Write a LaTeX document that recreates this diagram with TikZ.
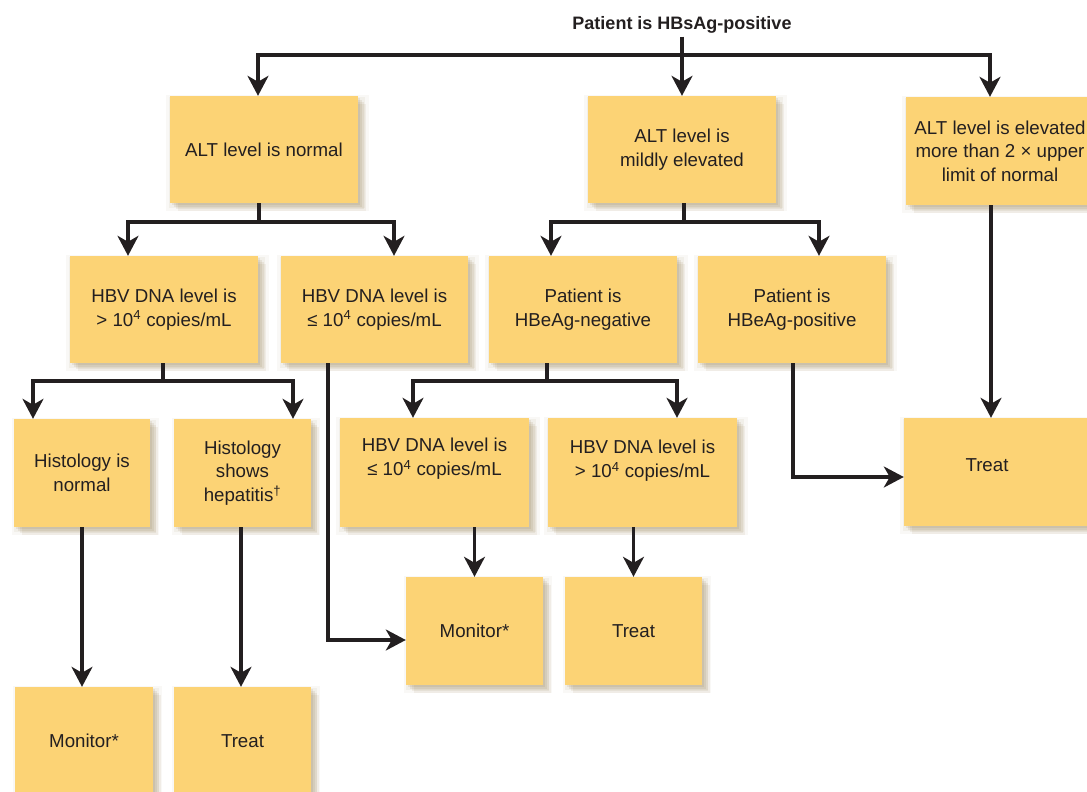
\documentclass[tikz,border=0pt]{standalone}
\usepackage{fontspec}
\setmainfont{Liberation Sans}
\usetikzlibrary{arrows.meta,shadows}
\definecolor{boxfill}{RGB}{252,211,117}
\definecolor{ink}{RGB}{35,31,32}
\definecolor{shade}{RGB}{110,80,20}
\begin{document}
\begin{tikzpicture}[x=1bp,y=-1bp,
  box/.style={fill=boxfill, inner sep=0pt, align=center, text=ink,
    font=\fontsize{18.7bp}{23.5bp}\selectfont,
    general shadow={fill=shade, opacity=0.04, shadow xshift=3bp, shadow yshift=-3bp, shadow scale=1.08},
    general shadow={fill=shade, opacity=0.06, shadow xshift=3bp, shadow yshift=-3bp, shadow scale=1.04},
    general shadow={fill=shade, opacity=0.09, shadow xshift=2bp, shadow yshift=-2bp},
    general shadow={fill=shade, opacity=0.09, shadow xshift=4bp, shadow yshift=-4bp},
    general shadow={fill=shade, opacity=0.08, shadow xshift=6bp, shadow yshift=-6bp},
    general shadow={fill=shade, opacity=0.07, shadow xshift=8bp, shadow yshift=-8bp}},
  txt/.style={inner sep=0pt, align=center, text=ink, font=\fontsize{18.7bp}{23.5bp}\selectfont},
  line/.style={draw=ink, line width=3.2bp},
  conn/.style={line, -{Stealth[length=20bp,width=21bp,inset=6bp]}}]
\useasboundingbox (0,0) rectangle (1087,792);
\clip (0,0) rectangle (1087,792);

% title
\node[inner sep=0pt, text=ink, font=\bfseries\fontsize{18bp}{22bp}\selectfont] (title) at (682,25) {Patient is HBsAg-positive};

% row 1
\node[box, minimum width=188bp, minimum height=107bp] (normal) at (264,149.5) {ALT level is normal};
\node[box, minimum width=188bp, minimum height=107bp] (mild) at (682,149.5) {ALT level is\\mildly elevated};
\node[box, minimum width=188bp, minimum height=108bp] (high) at (1000,151) {ALT level is elevated\\more than 2 × upper\\limit of normal};

% row 2
\node[box, minimum width=188bp, minimum height=107bp] (hbvhi) at (164,309.5) {HBV DNA level is\\> 10\textsuperscript{4} copies/mL};
\node[box, minimum width=187bp, minimum height=107bp] (hbvlo) at (374.5,309.5) {HBV DNA level is\\≤ 10\textsuperscript{4} copies/mL};
\node[box, minimum width=188bp, minimum height=107bp] (neg) at (583,309.5) {Patient is\\HBeAg-negative};
\node[box, minimum width=188bp, minimum height=107bp] (pos) at (792,309.5) {Patient is\\HBeAg-positive};

% row 3
\node[box, minimum width=136bp, minimum height=108bp] (histn) at (82,473) {Histology is\\normal};
\node[box, minimum width=137bp, minimum height=108bp] (histh) at (242.5,473) {Histology\\shows\\hepatitis\textsuperscript{†}};
\node[box, minimum width=189bp, minimum height=109bp] (hbvlo2) at (434.5,472.5) {HBV DNA level is\\≤ 10\textsuperscript{4} copies/mL\\[8bp]};
\node[box, minimum width=189bp, minimum height=109bp] (hbvhi2) at (642.5,472.5) {HBV DNA level is\\> 10\textsuperscript{4} copies/mL\\[4bp]};
\node[box, minimum width=188bp, minimum height=108bp] (treatR) at (998,472) {};
\node[txt] (treatRt) at (987,465) {Treat};

% row 4
\node[box, minimum width=137bp, minimum height=108bp] (mon2) at (474.5,631) {Monitor*};
\node[box, minimum width=137bp, minimum height=108bp] (treat2) at (633.5,631) {Treat};

% row 5
\node[box, minimum width=138bp, minimum height=108bp] (mon3) at (84,741) {Monitor*};
\node[box, minimum width=137bp, minimum height=108bp] (treat3) at (242.5,741) {Treat};

% connectors from title
\coordinate (topbus) at (682,55);
\draw[conn] ([yshift=-3bp]title.south) -- (mild.north);
\draw[conn] (topbus) -| ([xshift=-6bp]normal.north);
\draw[conn] (topbus) -| ([xshift=-10bp]high.north);

% from normal
\coordinate (b1) at (259,222);
\draw[line] (normal.south -| b1) -- (b1);
\draw[conn] (b1) -| ([xshift=-36bp]hbvhi.north);
\draw[conn] (b1) -| ([xshift=19.5bp]hbvlo.north);

% from mild
\coordinate (b2) at (684,222);
\draw[line] (mild.south -| b2) -- (b2);
\draw[conn] (b2) -| ([xshift=-32bp]neg.north);
\draw[conn] (b2) -| ([xshift=27bp]pos.north);

% from high
\draw[conn] ([xshift=-9bp]high.south) -- ([xshift=-9bp]high.south |- treatR.north);

% from hbvhi
\coordinate (b3) at (163,381);
\draw[line] (hbvhi.south -| b3) -- (b3);
\draw[conn] (b3) -| ([xshift=-49bp]histn.north);
\draw[conn] (b3) -| ([xshift=50.5bp]histh.north);

% from hbvlo
\draw[conn] ([xshift=-46.5bp]hbvlo.south) |- ([yshift=-9bp]mon2.west);

% from neg
\coordinate (b4) at (547,381);
\draw[line] (neg.south -| b4) -- (b4);
\draw[conn] (b4) -| ([xshift=-21.5bp]hbvlo2.north);
\draw[conn] (b4) -| ([xshift=34.5bp]hbvhi2.north);

% from pos
\draw[conn] ([xshift=1bp]pos.south) |- ([yshift=-5bp]treatR.west);

% row 3 to rows 4/5
\draw[conn] (histn.south) -- (histn.south |- mon3.north);
\draw[conn] ([xshift=-1.5bp]histh.south) -- ([xshift=-1.5bp]histh.south |- treat3.north);
\draw[conn] (mon2.north |- hbvlo2.south) -- (mon2.north);
\draw[conn] (treat2.north |- hbvhi2.south) -- (treat2.north);
\end{tikzpicture}
\end{document}
